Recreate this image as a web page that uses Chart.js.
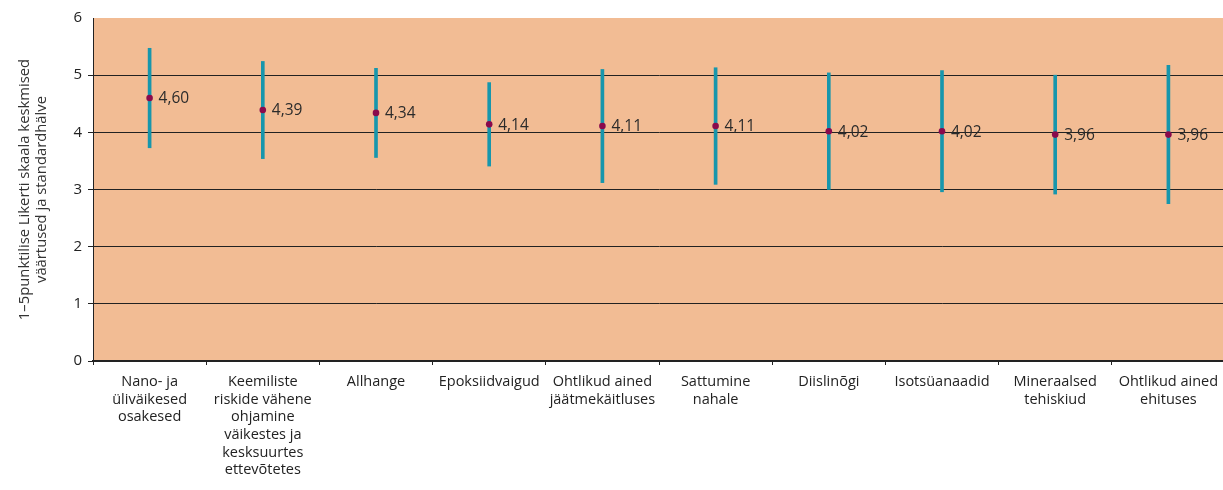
<!DOCTYPE html>
<html>
<head>
<meta charset="utf-8">
<script src="https://cdn.jsdelivr.net/npm/chart.js@4/dist/chart.umd.min.js"></script>
<style>
  html, body { margin: 0; padding: 0; background: #fff; overflow: hidden; }
  #wrap { width: 1229px; height: 490px; }
</style>
</head>
<body>
<div id="wrap"><canvas id="myChart"></canvas></div>
<script>
// categories (already wrapped into lines like the original)
var categories = [
  ["Nano- ja", "üliväikesed", "osakesed"],
  ["Keemiliste", "riskide vähene", "ohjamine", "väikestes ja", "kesksuurtes", "ettevõtetes"],
  ["Allhange"],
  ["Epoksiidvaigud"],
  ["Ohtlikud ained", "jäätmekäitluses"],
  ["Sattumine", "nahale"],
  ["Diislinõgi"],
  ["Isotsüanaadid"],
  ["Mineraalsed", "tehiskiud"],
  ["Ohtlikud ained", "ehituses"]
];
// mean values
var means = [4.60, 4.39, 4.34, 4.14, 4.11, 4.11, 4.02, 4.02, 3.96, 3.96];
// standard deviations
var stdDevs = [0.87, 0.85, 0.78, 0.73, 0.99, 1.02, 1.02, 1.06, 1.04, 1.21];
var yTicks = [0, 1, 2, 3, 4, 5, 6];
var yTitle = ["1–5punktilise Likerti skaala keskmised", "väärtused ja standardhälve"];

var ranges = means.map(function(m, i) { return [m - stdDevs[i], m + stdDevs[i]]; });

var fontFam = "'Open Sans', sans-serif";

// peach plot background
var plotBg = {
  id: "plotBg",
  beforeDraw: function(chart) {
    var a = chart.chartArea, ctx = chart.ctx;
    ctx.save();
    ctx.fillStyle = "#F2BC94";
    ctx.fillRect(a.left, a.top, a.right - a.left, a.bottom - a.top);
    ctx.restore();
  }
};

// value labels right of the points
var valueLabels = {
  id: "valueLabels",
  afterDatasetsDraw: function(chart) {
    var meta = chart.getDatasetMeta(1), ctx = chart.ctx;
    ctx.save();
    ctx.font = "15.5px " + fontFam;
    ctx.fillStyle = "#2b2b2b";
    ctx.textBaseline = "middle";
    ctx.textAlign = "left";
    meta.data.forEach(function(pt, i) {
      ctx.fillText(means[i].toFixed(2).replace(".", ","), pt.x + 9, pt.y + 1);
    });
    ctx.restore();
  }
};

new Chart("myChart", {
  data: {
    labels: categories,
    datasets: [{
      type: "bar",
      data: ranges,
      backgroundColor: "#1796AC",
      barThickness: 3,
      order: 1
    }, {
      type: "line",
      data: means,
      showLine: false,
      pointRadius: 3.3,
      pointBackgroundColor: "#8A0A4C",
      pointBorderWidth: 0,
      order: 0
    }]
  },
  options: {
    responsive: true,
    maintainAspectRatio: false,
    animation: false,
    layout: { padding: { top: 18, right: 0, left: 16, bottom: 0 } },
    plugins: { legend: { display: false }, tooltip: { enabled: false } },
    scales: {
      x: {
        offset: true,
        grid: { display: true, drawOnChartArea: false, drawTicks: true, tickLength: 4, color: "#222", offset: true },
        border: { display: true, color: "#222", width: 2 },
        ticks: {
          color: "#222", padding: 8, maxRotation: 0, autoSkip: false,
          font: { family: fontFam, size: 14.5, lineHeight: 1.22 }
        },
        afterFit: function(scale) { scale.height = 129; }
      },
      y: {
        min: 0, max: 6,
        afterBuildTicks: function(scale) { scale.ticks = yTicks.map(function(v) { return { value: v }; }); },
        grid: {
          color: function(c) { return c.tick && c.tick.value === 6 ? "rgba(0,0,0,0)" : "#222"; },
          lineWidth: 1, tickLength: 5, drawTicks: true
        },
        border: { display: true, color: "#222", width: 1 },
        ticks: { color: "#222", padding: 6, font: { family: fontFam, size: 15 } },
        title: {
          display: true, text: yTitle, color: "#333", padding: { top: 0, bottom: 4 },
          font: { family: fontFam, size: 14.8, lineHeight: 1.15 }
        },
        afterFit: function(scale) { scale.width = 77; }
      }
    }
  },
  plugins: [plotBg, valueLabels]
});
</script>
</body>
</html>
